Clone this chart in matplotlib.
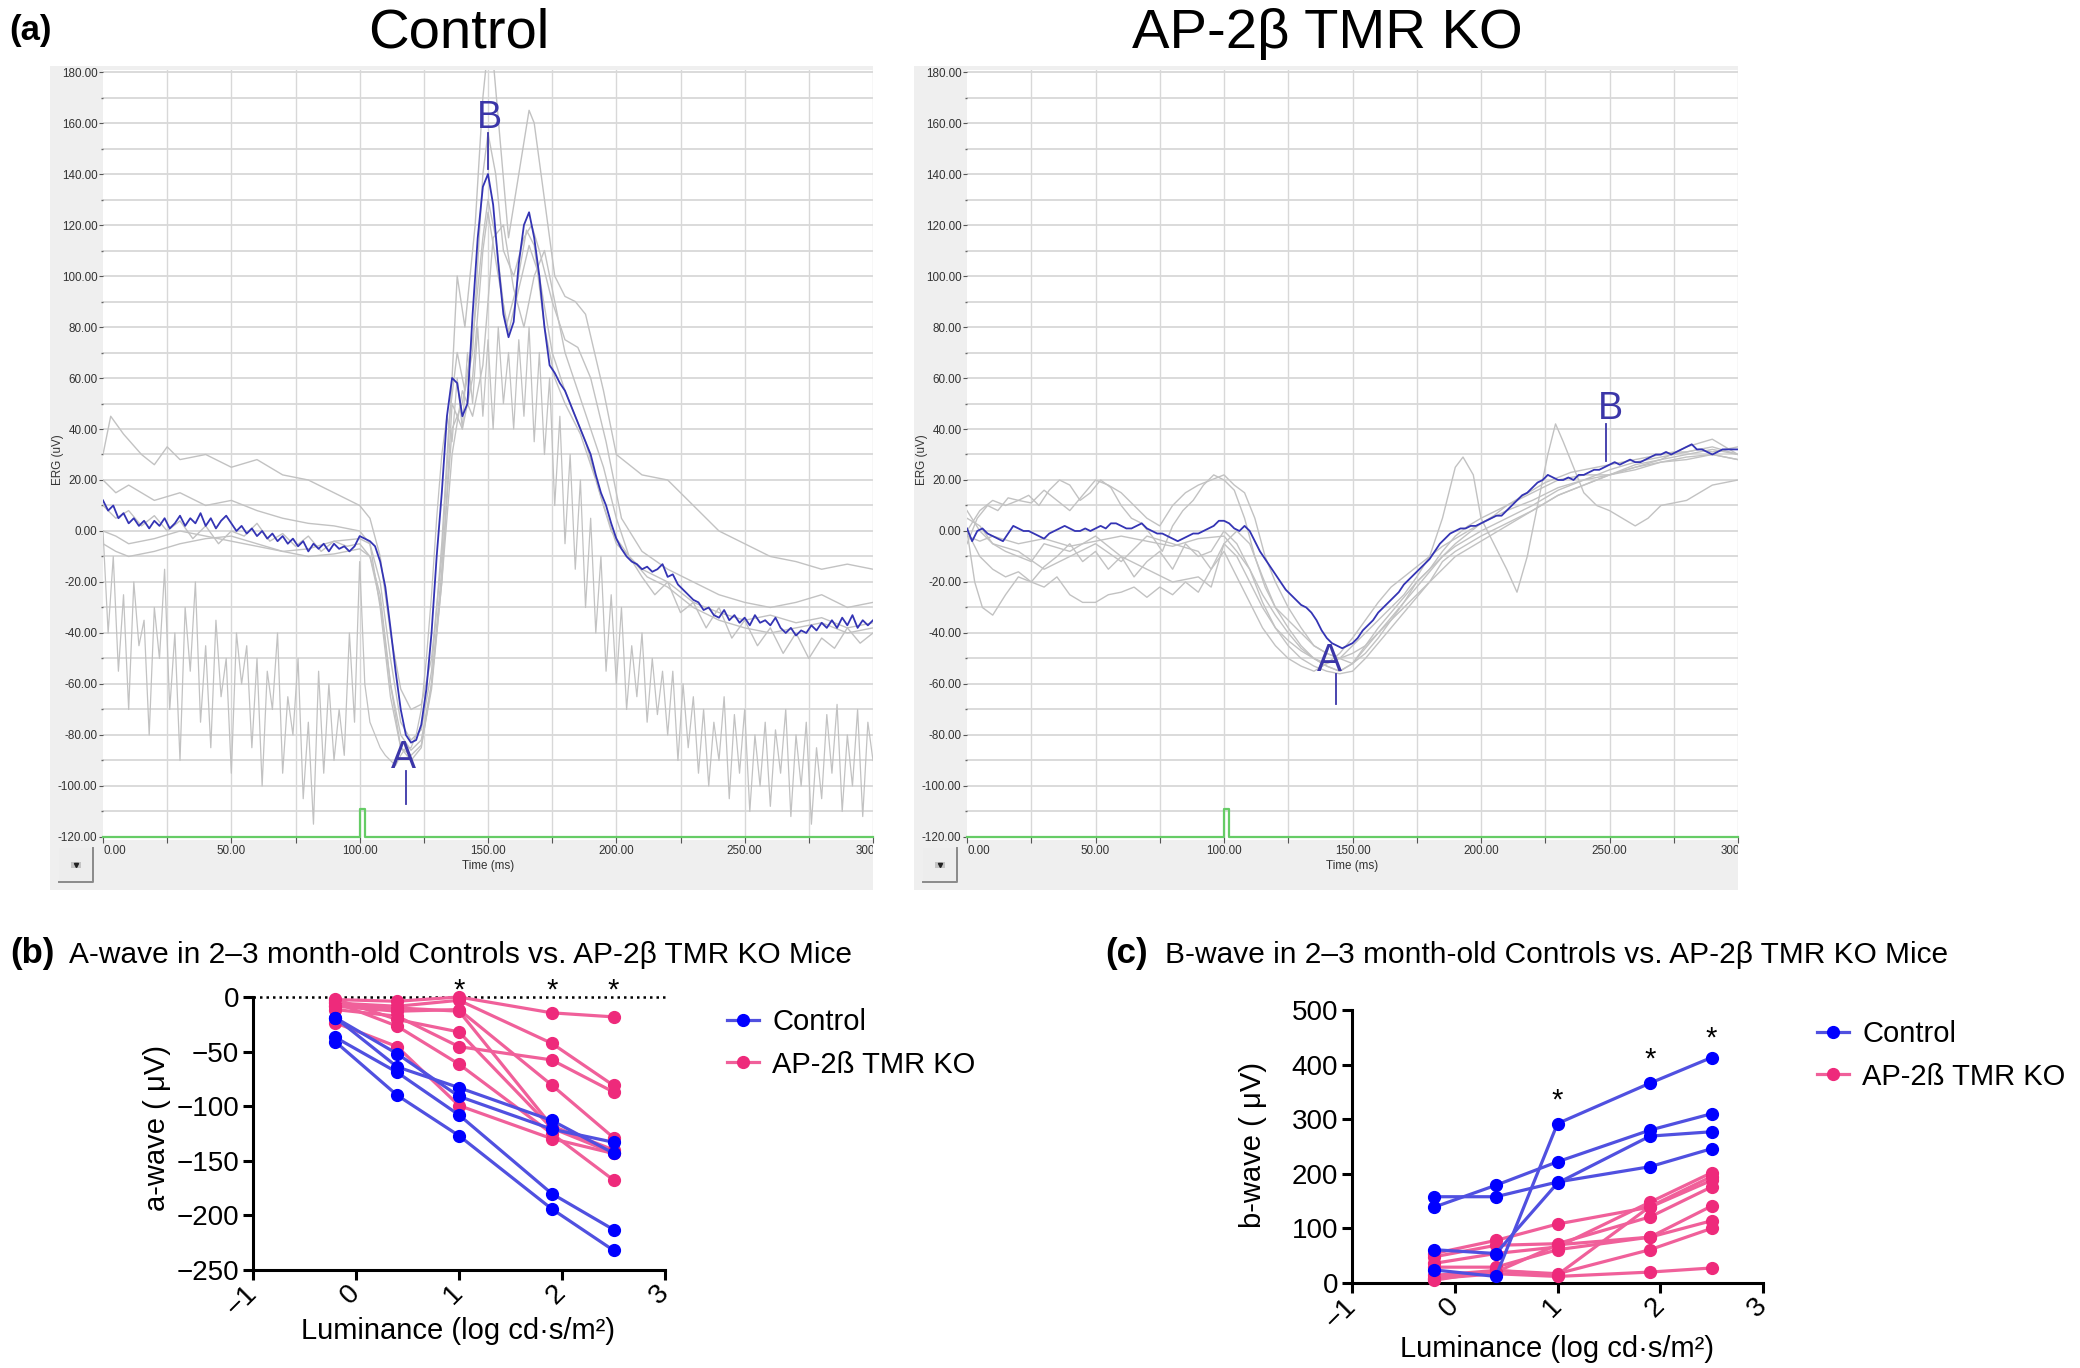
import numpy as np
import matplotlib
matplotlib.use("Agg")
import matplotlib.pyplot as plt
from matplotlib.lines import Line2D
from matplotlib.patches import Rectangle
from matplotlib.transforms import offset_copy

plt.rcParams['font.family'] = ['Liberation Sans', 'DejaVu Sans']

# ====================== DATA ======================
# ---- panel (a): ERG traces (uV) ----
erg_time = np.arange(0, 301, 2)          # ms sampling grid of averaged / noisy traces

ctrl_mean = [12, 8, 10, 5, 7, 3, 5, 2, 4, 1,
             4, 2, 5, 1, 3, 6, 2, 5, 3, 7,
             2, 5, 1, 4, 6, 3, 0, 2, -1, 1,
             -2, 0, -3, -1, -4, -2, -5, -3, -6, -4,
             -8, -5, -7, -5, -8, -5, -7, -6, -8, -6,
             -2, -3, -4, -6, -12, -22, -38, -55, -70, -80,
             -83, -82, -76, -62, -40, -10, 15, 45, 60, 58,
             45, 50, 85, 115, 135, 140, 128, 105, 85, 76,
             82, 105, 120, 125, 115, 100, 80, 65, 62, 58,
             55, 50, 45, 40, 35, 30, 22, 15, 10, 3,
             -3, -7, -10, -12, -13, -15, -14, -16, -15, -13,
             -18, -17, -21, -23, -25, -27, -28, -31, -30, -33,
             -34, -31, -35, -33, -36, -34, -37, -33, -36, -35,
             -37, -34, -38, -40, -38, -41, -39, -40, -37, -39,
             -36, -38, -35, -38, -34, -37, -33, -38, -35, -37,
             -35]

ctrl_noisy = [0, -40, -10, -55, -25, -70, -20, -45, -35, -80,
              -30, -50, -15, -70, -40, -90, -30, -55, -20, -75,
              -45, -85, -35, -65, -50, -95, -40, -60, -45, -85,
              -50, -100, -55, -70, -40, -95, -65, -80, -50, -105,
              -75, -115, -55, -95, -60, -90, -70, -88, -40, -75,
              -12, -60, -75, -80, -85, -88, -90, -92, -88, -85,
              -85, -80, -70, -50, -25, 5, 30, 45, 35, 60,
              40, 70, 50, 80, 45, 75, 40, 80, 50, 70,
              40, 75, 45, 80, 35, 70, 30, 60, 10, 45,
              -5, 30, -15, 20, -30, 5, -40, -10, -55, -25,
              -60, -30, -70, -45, -65, -40, -75, -50, -72, -55,
              -80, -55, -90, -60, -85, -65, -95, -70, -100, -75,
              -90, -65, -105, -72, -95, -70, -110, -80, -100, -75,
              -108, -78, -95, -70, -112, -80, -100, -75, -115, -85,
              -105, -72, -95, -68, -110, -80, -100, -70, -112, -75,
              -90]

ko_mean = [1, -4, 0, 1, -1, -2, -3, -4, -1, 2,
           1, 0, 0, -1, -2, -3, -1, 0, 1, 2,
           1, 0, 0, 1, 0, 1, 2, 1, 3, 3,
           2, 1, 1, 2, 3, 1, 0, -1, -1, -2,
           -3, -4, -3, -2, -1, -1, 0, 1, 2, 4,
           4, 3, 1, 0, 2, 0, -4, -8, -11, -14,
           -17, -20, -23, -25, -27, -29, -30, -32, -35, -39,
           -42, -44, -45, -46, -45, -44, -42, -39, -37, -35,
           -32, -30, -28, -26, -24, -21, -19, -17, -15, -13,
           -11, -8, -5, -3, -1, 0, 1, 1, 2, 2,
           3, 4, 5, 6, 6, 8, 10, 12, 14, 15,
           17, 19, 20, 22, 21, 20, 20, 21, 20, 22,
           22, 23, 24, 24, 25, 26, 27, 26, 27, 28,
           27, 27, 28, 29, 30, 30, 31, 30, 31, 32,
           33, 34, 32, 32, 31, 30, 31, 32, 32, 32,
           32]

# individual control traces (time ms, value uV)
ctrl_g1_t = [0, 5, 10, 20, 30, 40, 50, 60, 70, 80, 90, 100, 104, 108, 112, 116, 120, 124, 128, 132,
             136, 140, 144, 148, 150, 153, 157, 161, 165, 168, 172, 176, 180, 186, 192, 198, 205, 212,
             220, 230, 240, 250, 260, 270, 280, 290, 300]
ctrl_g1_v = [0, -2, -5, -3, 0, -2, -4, -6, -8, -10, -9, -7, -10, -25, -60, -85, -90, -85, -60, -15,
             40, 50, 75, 115, 130, 115, 80, 95, 118, 112, 80, 60, 50, 38, 20, 0, -10, -18,
             -22, -30, -35, -38, -40, -38, -36, -40, -38]
ctrl_g2_t = [0, 3, 8, 15, 20, 25, 30, 40, 50, 60, 70, 80, 90, 100, 104, 108, 112, 116, 120, 124, 128,
             132, 136, 138, 141, 145, 148, 150, 152, 155, 158, 162, 166, 168, 172, 176, 180, 184, 188,
             195, 200, 210, 220, 230, 240, 250, 260, 270, 280, 290, 300]
ctrl_g2_v = [30, 45, 38, 30, 26, 33, 28, 30, 25, 28, 22, 20, 15, 10, 5, -10, -40, -62, -70, -68, -50,
             -10, 60, 100, 80, 120, 170, 190, 185, 150, 115, 140, 165, 160, 130, 100, 92, 90, 85,
             55, 30, 22, 20, 10, 0, -5, -10, -12, -15, -13, -15]
ctrl_g3_t = [0, 5, 10, 20, 30, 40, 50, 60, 70, 80, 90, 100, 104, 108, 112, 116, 120, 124, 128, 132, 135,
             138, 141, 144, 148, 150, 153, 156, 160, 164, 167, 170, 175, 180, 185, 190, 196, 202, 210,
             220, 230, 240, 250, 260, 270, 280, 290, 300]
ctrl_g3_v = [20, 15, 18, 12, 15, 10, 12, 8, 5, 3, 2, 0, -5, -20, -50, -75, -82, -78, -55, -5, 45,
             70, 55, 70, 140, 156, 140, 110, 100, 115, 120, 110, 90, 75, 72, 60, 35, 5, -8,
             -15, -20, -25, -28, -30, -28, -25, -30, -28]
ctrl_g4_t = [0, 5, 10, 20, 30, 40, 50, 60, 70, 80, 90, 100, 104, 108, 112, 116, 120, 124, 128, 132,
             136, 140, 144, 148, 150, 154, 158, 162, 166, 170, 175, 180, 188, 195, 200, 210, 220,
             230, 240, 250, 260, 270, 280, 290, 300]
ctrl_g4_v = [-5, -8, -10, -8, -5, -3, -2, -5, -8, -7, -4, -3, -5, -30, -65, -85, -88, -84, -62, -20,
             50, 40, 60, 110, 125, 100, 78, 95, 112, 100, 70, 55, 35, 10, -5, -15, -20,
             -28, -32, -35, -33, -36, -34, -38, -36]
ctrl_g5_t = [0, 5, 10, 15, 20, 25, 30, 35, 40, 45, 50, 55, 60, 65, 70, 75, 80, 85, 90, 95, 100,
             104, 108, 112, 116, 120, 124, 128, 132, 136, 140, 144, 148, 152, 156, 160, 164, 168, 172,
             176, 180, 185, 190, 195, 200, 205, 210, 215, 220, 225, 230, 235, 240, 245, 250, 255,
             260, 265, 270, 275, 280, 285, 290, 295, 300]
ctrl_g5_v = [10, 5, 8, 2, 6, 0, 4, -3, 2, -5, 0, -2, 3, -4, -1, -6, -2, -8, -4, -6, -5,
             -10, -28, -60, -80, -86, -82, -60, -20, 30, 55, 45, 65, 115, 120, 95, 80, 100, 110,
             90, 70, 55, 40, 25, 5, -10, -18, -25, -20, -32, -28, -38, -30, -42, -35, -45,
             -38, -48, -40, -50, -42, -46, -38, -44, -40]

# individual KO traces
ko_g1_t = [0, 5, 10, 15, 20, 25, 30, 35, 40, 45, 50, 55, 60, 65, 70, 75, 80, 85, 90, 95, 100, 104,
           108, 112, 116, 120, 125, 130, 135, 140, 145, 150, 155, 160, 165, 170, 175, 180, 185, 190,
           195, 200, 210, 220, 230, 240, 250, 260, 270, 280, 290, 300]
ko_g1_v = [0, 8, 12, 10, 12, 11, 16, 12, 8, 14, 20, 18, 15, 10, 5, 2, 10, 15, 18, 20, 22, 18,
           15, 5, -10, -20, -30, -38, -45, -48, -50, -52, -48, -42, -35, -28, -20, -15, -8, -2,
           2, 5, 10, 15, 20, 22, 22, 25, 28, 30, 32, 30]
ko_g2_t = [0, 3, 6, 10, 15, 20, 25, 30, 35, 40, 45, 50, 55, 60, 65, 70, 75, 80, 85, 90, 95, 100, 105,
           110, 115, 120, 125, 130, 135, 140, 145, 150, 155, 160, 165, 170, 175, 180, 185, 190, 195,
           200, 210, 220, 230, 240, 250, 260, 270, 280, 290, 300]
ko_g2_v = [0, -20, -30, -33, -25, -18, -20, -22, -18, -25, -28, -28, -25, -24, -22, -26, -22, -25,
           -20, -24, -15, -8, -18, -28, -38, -45, -50, -53, -55, -52, -48, -42, -35, -28, -22, -18,
           -14, -10, -6, -3, 0, 3, 8, 12, 17, 20, 22, 25, 27, 28, 30, 28]
ko_g3_t = [0, 5, 10, 15, 20, 25, 30, 40, 50, 60, 70, 80, 90, 95, 100, 105, 110, 115, 120, 125, 130,
           135, 140, 145, 150, 155, 160, 165, 170, 175, 180, 185, 190, 193, 197, 200, 205, 210, 214,
           218, 222, 226, 229, 232, 236, 240, 245, 250, 255, 260, 265, 270, 280, 290, 300]
ko_g3_v = [5, 2, -5, -8, -10, -12, -5, -8, -2, -10, -15, -20, -18, -22, -5, -10, -20, -30, -38, -43,
           -47, -50, -52, -50, -45, -40, -35, -30, -25, -18, -10, 5, 25, 29, 22, 5, -5, -15, -24,
           -10, 10, 30, 42, 35, 25, 15, 10, 8, 5, 2, 5, 10, 12, 18, 20]
ko_g4_t = [0, 5, 10, 20, 30, 40, 50, 60, 70, 80, 90, 100, 105, 110, 115, 120, 125, 130, 135, 140,
           145, 150, 155, 160, 165, 170, 175, 180, 185, 190, 195, 200, 210, 220, 230, 240, 250, 260,
           270, 280, 290, 300]
ko_g4_v = [-2, -4, -2, -5, -3, -6, -4, -2, -4, -6, -3, -2, -8, -15, -25, -33, -40, -46, -50, -53,
           -55, -52, -45, -38, -32, -26, -20, -15, -10, -6, -3, 0, 5, 10, 16, 20, 24, 27,
           29, 31, 33, 30]
ko_g5_t = [0, 5, 10, 20, 30, 40, 50, 60, 70, 80, 90, 95, 100, 105, 110, 115, 120, 125, 130, 135,
           140, 145, 150, 155, 160, 165, 170, 175, 180, 185, 190, 195, 200, 210, 220, 230, 240,
           250, 260, 270, 280, 290, 300]
ko_g5_v = [8, 0, -5, -8, -15, -10, -5, -12, -2, -5, -8, -15, -5, 0, -5, -18, -30, -35, -40, -45,
           -48, -50, -48, -45, -40, -35, -30, -25, -20, -12, -8, -5, -2, 3, 8, 14, 18,
           22, 26, 28, 33, 36, 30]
ko_g6_t = [0, 4, 8, 12, 16, 20, 24, 28, 32, 36, 40, 44, 48, 52, 56, 60, 64, 68, 72, 76,
           80, 84, 88, 92, 96, 100, 104, 108, 112, 116, 120,
           125, 130, 135, 140, 145, 150, 155, 160, 165, 170, 175, 180, 185, 190, 195, 200, 205,
           210, 215, 220, 225, 230, 235, 240, 245, 250, 255, 260, 265, 270, 275, 280, 285, 290,
           295, 300]
ko_g6_v = [-5, 5, 10, 8, 13, 12, 14, 10, 16, 20, 18, 12, 15, 20, 17, 10, 5, 3, -2, -8,
           2, 8, 12, 18, 22, 20, 16, 5, -10, -22, -30,
           -38, -45, -50, -53, -55, -52, -46, -40, -34, -28, -22, -16, -10, -5, -1, 3, 6,
           10, 13, 16, 19, 21, 23, 24, 25, 26, 27, 28, 29, 30, 31, 31, 32, 31,
           32, 33]
ko_g7_t = [0, 5, 10, 15, 20, 25, 30, 35, 40, 45, 50, 55, 60, 65, 70, 75, 80, 85, 90, 95, 100,
           105, 110, 115, 120, 125, 130, 135, 140, 145, 150, 155, 160, 165, 170, 175, 180,
           190, 200, 210, 220, 230, 240, 250, 260, 270, 280, 290, 300]
ko_g7_v = [0, -10, -15, -18, -16, -20, -14, -10, -5, -12, -8, -15, -10, -18, -12, -8, -15, -5,
           -10, -8, 0, -5, -15, -28, -38, -45, -50, -53, -55, -56, -55, -50, -44, -38, -32, -26,
           -20, -10, -4, 2, 8, 14, 18, 22, 24, 27, 29, 30, 28]

stim_t = [0, 100, 100, 102, 102, 300]
stim_v = [-120, -120, -109, -109, -120, -120]

erg_yticks = [-120, -100, -80, -60, -40, -20, 0, 20, 40, 60, 80, 100, 120, 140, 160, 180]
erg_xticks = [0, 50, 100, 150, 200, 250, 300]

# ---- panels (b), (c) ----
lum_x = [-0.2, 0.4, 1.0, 1.9, 2.5]

a_ctrl = [[-41, -90, -127, -194, -232],
          [-37, -69, -108, -180, -213],
          [-19, -64, -83, -113, -143],
          [-19, -52, -91, -121, -133]]
a_ko = [[-2.4, -3.9, 0.0, -14.5, -18.2],
        [-5.5, -8.5, -3.0, -42.4, -81.0],
        [-11.5, -17.6, -45.5, -57.6, -87.0],
        [-8.5, -13.0, -11.5, -80.6, -128.8],
        [-5.0, -26.7, -61.5, -125.0, -167.6],
        [-23.6, -45.5, -99.4, -129.7, -143.3],
        [-8.0, -10.0, -13.0, -118.0, -140.0],
        [-2.0, -20.6, -32.0, -120.0, -143.0]]

b_ctrl = [[139, 179, 222, 280, 310],
          [158, 158, 185, 213, 246],
          [24, 12, 292, 366, 413],
          [61, 54, 183, 269, 277]]
b_ko = [[54, 78, 108, 139, 188],
        [48, 69, 72, 121, 176],
        [36, 54, 66, 148, 202],
        [29, 29, 61, 84, 114],
        [14, 23, 17, 61, 100],
        [8, 17, 12, 20, 27.5],
        [5, 23, 15, 140, 195],
        [10, 20, 70, 84, 141]]

star_x_a = [1.0, 1.9, 2.5]
star_y_a = [-1.5, -1.5, -1.5]
star_x_b = [1.0, 1.9, 2.5]
star_y_b = [319, 394, 433]

lum_xticks = [-1, 0, 1, 2, 3]
lum_xticklabels = ['\u22121', '0', '1', '2', '3']
a_yticks = [-250, -200, -150, -100, -50, 0]
b_yticks = [0, 100, 200, 300, 400, 500]

# ====================== FIGURE ======================
W, H = 2080, 1368
fig = plt.figure(figsize=(20.8, 13.68), dpi=100)
fig.patch.set_facecolor('white')


def fx(px):
    return px / W


def fy(py):
    return 1 - py / H


def px_rect(x0, y0, x1, y1):
    return [x0 / W, 1 - y1 / H, (x1 - x0) / W, (y1 - y0) / H]


GRAY_TR = '#c2c2c2'
MEAN_BLUE = '#3434b4'
LBL_BLUE = '#3b36a8'
GRID = '#d8d8d8'
TICKTXT = '#333333'


def erg_panel(fr_x0, fr_x1, title, title_x, gray_traces, mean_v, noisy_v, lblA, lblB):
    bg = fig.add_axes(px_rect(fr_x0, 66, fr_x1, 890))
    bg.set_facecolor('#efefef')
    bg.set_xticks([])
    bg.set_yticks([])
    for s in bg.spines.values():
        s.set_visible(False)
    bg.set_zorder(0)

    ax0 = fr_x0 + 53
    ax1 = fr_x1
    ax = fig.add_axes(px_rect(ax0, 69.5, ax1, 839.5))
    ax.set_zorder(1)
    ax.set_facecolor('white')
    ax.set_xlim(0, 300)
    ax.set_ylim(-121, 181)
    for s in ax.spines.values():
        s.set_visible(False)
    for gx in range(25, 301, 25):
        ax.axvline(gx, color=GRID, lw=1.0, zorder=0)
    for gy in range(-110, 181, 10):
        ax.axhline(gy, color=GRID, lw=1.3, zorder=0)

    ax.set_yticks(erg_yticks)
    ax.set_yticklabels([f"{v:.2f}" for v in erg_yticks])
    ax.set_yticks(list(range(-110, 180, 20)), minor=True)
    ax.tick_params(axis='y', which='major', length=3, width=0.8, color='#555555',
                   labelsize=8.4, labelcolor=TICKTXT, pad=1)
    ax.tick_params(axis='y', which='minor', length=1.2, width=1.0, color='#666666')
    ax.set_xticks(erg_xticks)
    ax.set_xticklabels([])
    ax.set_xticks(list(range(25, 300, 50)), minor=True)
    ax.tick_params(axis='x', which='both', length=4, width=0.8, color='#555555', direction='inout')

    # stimulus marker
    ax.plot(stim_t, stim_v, color='#66cc66', lw=1.6, zorder=2, clip_on=False)

    # gray individual traces
    for t, v in gray_traces:
        ax.plot(t, v, color=GRAY_TR, lw=1.0, zorder=3)
    if noisy_v is not None:
        ax.plot(erg_time, noisy_v, color=GRAY_TR, lw=0.9, zorder=3)
    ax.plot(erg_time, mean_v, color=MEAN_BLUE, lw=1.3, zorder=4)

    # A / B markers
    for (tx, ty, lx, ly0, ly1, s) in (lblA, lblB):
        ax.text(tx, ty, s, color=LBL_BLUE, fontsize=27, ha='center', va='baseline', zorder=5,
                clip_on=False)
        ax.plot([lx, lx], [ly0, ly1], color=LBL_BLUE, lw=1.3, zorder=5)

    # x tick labels (manual, clipped to the gray frame)
    tr = offset_copy(ax.transData, fig=fig, y=-6, units='dots')
    for v in erg_xticks:
        t = fig.text(v, -121, f"{v:.2f}", transform=tr, fontsize=8.4, color=TICKTXT,
                     ha='left' if v == 0 else 'center', va='top')
        t.set_clip_box(bg.bbox)
        t.set_clip_on(True)
    trl = offset_copy(ax.transData, fig=fig, y=-20, units='dots')
    fig.text(150, -121, "Time (ms)", transform=trl, fontsize=8.4, color=TICKTXT,
             ha='center', va='top')
    fig.text(fx(fr_x0 + 8), fy(460), "ERG (uV)", rotation=90, fontsize=8.4, color=TICKTXT,
             ha='center', va='center')

    # little button at bottom-left
    bx0, by0 = fr_x0 + 9, 848
    fig.add_artist(Rectangle((fx(bx0), fy(by0 + 34)), 34 / W, 34 / H, transform=fig.transFigure,
                             facecolor='#ededed', edgecolor='none', zorder=5))
    fig.add_artist(Line2D([fx(bx0), fx(bx0 + 34), fx(bx0 + 34)],
                          [fy(by0 + 34), fy(by0 + 34), fy(by0)],
                          transform=fig.transFigure, color='#8a8a8a', lw=1.4, zorder=6))
    fig.add_artist(Rectangle((fx(bx0 + 12), fy(by0 + 20)), 10 / W, 6 / H, transform=fig.transFigure,
                             facecolor='#c4c4c4', edgecolor='none', zorder=6))
    fig.add_artist(Line2D([fx(bx0 + 17)], [fy(by0 + 17)], transform=fig.transFigure,
                          marker='v', color='#222222', ms=3, lw=0, zorder=7))

    fig.text(fx(title_x), fy(48), title, fontsize=40.5, ha='center', va='baseline')
    return ax


erg_panel(50, 873, "Control", 459,
          [(ctrl_g1_t, ctrl_g1_v), (ctrl_g2_t, ctrl_g2_v), (ctrl_g3_t, ctrl_g3_v),
           (ctrl_g4_t, ctrl_g4_v), (ctrl_g5_t, ctrl_g5_v)],
          ctrl_mean, ctrl_noisy,
          (117, -93, 118, -94, -107, 'A'), (150.5, 158, 150, 156, 142, 'B'))
erg_panel(914, 1738, "AP-2\u03b2 TMR KO", 1327,
          [(ko_g1_t, ko_g1_v), (ko_g2_t, ko_g2_v), (ko_g3_t, ko_g3_v),
           (ko_g4_t, ko_g4_v), (ko_g5_t, ko_g5_v), (ko_g6_t, ko_g6_v), (ko_g7_t, ko_g7_v)],
          ko_mean, None,
          (141, -55, 143.5, -56, -68, 'A'), (250.5, 44, 248.5, 42, 27.5, 'B'))

fig.text(fx(9), fy(40), "(a)", fontsize=25, fontweight='bold', ha='left', va='baseline')

# ---------------- panels (b) and (c) ----------------
BLUE = '#0000ff'
BLUE_L = '#5050e0'
PINK = '#ee2a7b'
PINK_L = '#f0609a'


def lum_panel(rect, ctrl, ko, ylim, yticks, star_x, star_y, ylabel, ylab_xy, xlab_xy,
              leg_xy, zero_line=False):
    ax = fig.add_axes(rect)
    if zero_line:
        ax.axhline(0, color='black', lw=1.8, ls=(0, (1, 1.6)), clip_on=False, zorder=1)
    for v in ko:
        ax.plot(lum_x, v, color=PINK_L, lw=2.3, marker='o', ms=8.5, mfc=PINK, mec=PINK,
                clip_on=False, zorder=3)
    for v in ctrl:
        ax.plot(lum_x, v, color=BLUE_L, lw=2.3, marker='o', ms=8.5, mfc=BLUE, mec=BLUE,
                clip_on=False, zorder=4)
    ax.set_xlim(-1, 3)
    ax.set_ylim(*ylim)
    for s in ('top', 'right'):
        ax.spines[s].set_visible(False)
    for s in ('left', 'bottom'):
        ax.spines[s].set_linewidth(2.2)
    ax.set_xticks(lum_xticks)
    ax.set_xticklabels(lum_xticklabels, rotation=45, ha='right', va='center',
                       rotation_mode='anchor')
    ax.set_yticks(yticks)
    ax.set_yticklabels([str(v).replace('-', '\u2212') for v in yticks])
    ax.tick_params(axis='both', length=7, width=2.2, labelsize=20, direction='out')
    ax.tick_params(axis='x', pad=7)
    ax.tick_params(axis='y', pad=3)
    for sx, sy in zip(star_x, star_y):
        ax.text(sx, sy, '*', fontsize=21, ha='center', va='baseline', clip_on=False)
    fig.text(fx(ylab_xy[0]), fy(ylab_xy[1]), ylabel, rotation=90, fontsize=21,
             ha='center', va='center')
    fig.text(fx(xlab_xy[0]), fy(xlab_xy[1]), "Luminance (log cd\u00b7s/m\u00b2)", fontsize=21,
             ha='center', va='center')
    handles = [Line2D([], [], color=BLUE_L, lw=2.3, marker='o', ms=8.5, mfc=BLUE, mec=BLUE),
               Line2D([], [], color=PINK_L, lw=2.3, marker='o', ms=8.5, mfc=PINK, mec=PINK)]
    ax.legend(handles, ['Control', 'AP-2\u00df TMR KO'], loc='upper left',
              bbox_to_anchor=(fx(leg_xy[0]), fy(leg_xy[1])), bbox_transform=fig.transFigure,
              frameon=False, fontsize=21, handlelength=1.1, handletextpad=0.45,
              labelspacing=0.5, borderaxespad=0, borderpad=0)
    return ax


lum_panel(px_rect(253, 997, 665, 1270), a_ctrl, a_ko, (-250, 0), a_yticks,
          star_x_a, star_y_a, "a-wave ( \u03bcV)", (157, 1128), (458, 1331), (727, 1008),
          zero_line=True)
lum_panel(px_rect(1352, 1010, 1763, 1283), b_ctrl, b_ko, (0, 500), b_yticks,
          star_x_b, star_y_b, "b-wave ( \u03bcV)", (1253, 1145), (1557, 1349), (1817, 1020))

fig.text(fx(10), fy(963), "(b)", fontsize=25, fontweight='bold', ha='left', va='baseline')
fig.text(fx(69), fy(963), "A-wave in 2\u20133 month-old Controls vs. AP-2\u03b2 TMR KO Mice",
         fontsize=21.5, ha='left', va='baseline')
fig.text(fx(1105), fy(963), "(c)", fontsize=25, fontweight='bold', ha='left', va='baseline')
fig.text(fx(1165), fy(963), "B-wave in 2\u20133 month-old Controls vs. AP-2\u03b2 TMR KO Mice",
         fontsize=21.5, ha='left', va='baseline')

fig.savefig("out.png", dpi=100)
